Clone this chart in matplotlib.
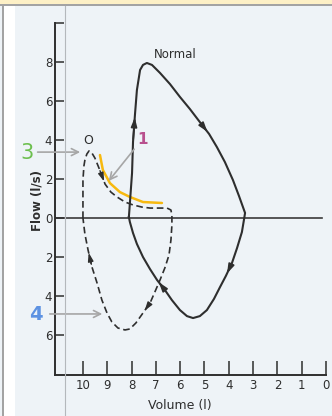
import numpy as np
import matplotlib
matplotlib.use("Agg")
import matplotlib.pyplot as plt
from matplotlib.patches import Rectangle
from matplotlib.lines import Line2D
from matplotlib.ticker import FuncFormatter

# normal loop: expiration (upper) then inspiration (lower), volume in l, flow in l/s
normal_vol = [8.11, 7.98, 7.94, 7.86, 7.78, 7.65, 7.53, 7.37, 7.16, 6.83, 6.42, 6.01, 5.60,
              5.19, 4.81, 4.49, 4.16, 3.83, 3.58, 3.33, 3.37, 3.46, 3.66, 3.87, 4.12,
              4.36, 4.61, 4.90, 5.19, 5.47, 5.72, 6.01, 6.34, 6.63, 6.95, 7.24, 7.53,
              7.78, 7.94, 8.07, 8.11]
normal_flow = [0.05, 2.31, 3.90, 5.30, 6.56, 7.59, 7.85, 7.95, 7.85, 7.44, 6.87, 6.21, 5.59,
               4.92, 4.31, 3.64, 2.87, 1.95, 1.13, 0.26, -0.05, -0.72, -1.54, -2.31, -2.97,
               -3.54, -4.15, -4.72, -5.03, -5.13, -5.03, -4.72, -4.21, -3.69, -3.18, -2.62, -2.00,
               -1.33, -0.77, -0.20, 0.05]

# obstructed loop (dashed)
obstr_vol = [10.0, 10.0, 10.0, 9.96, 9.92, 9.84, 9.75, 9.63, 9.51, 9.34, 9.09, 8.85, 8.60,
             8.27, 7.94, 7.57, 7.24, 6.83, 6.54, 6.38, 6.34, 6.34, 6.38, 6.46, 6.63,
             6.83, 7.04, 7.24, 7.53, 7.82, 8.07, 8.27, 8.56, 8.81, 9.01, 9.22, 9.42,
             9.63, 9.79, 9.92, 10.0]
obstr_flow = [0.0, 1.18, 1.95, 2.67, 2.97, 3.28, 3.44, 3.33, 3.08, 2.56, 1.74, 1.33, 1.08,
              0.82, 0.67, 0.56, 0.51, 0.51, 0.51, 0.41, 0.15, -0.36, -1.13, -1.90, -2.56,
              -3.18, -3.79, -4.36, -4.87, -5.38, -5.69, -5.74, -5.64, -5.33, -4.87, -4.21, -3.33,
              -2.51, -1.64, -0.82, 0.0]

# highlighted segment (yellow)
hl_vol = [9.30, 9.18, 8.89, 8.48, 8.07, 7.53, 6.75]
hl_flow = [3.23, 2.46, 1.79, 1.33, 1.08, 0.82, 0.77]

normal_arrows = [2, 13, 23, 33]
obstr_arrows = [9, 27, 37]

xticks = [10, 9, 8, 7, 6, 5, 4, 3, 2, 1, 0]
yticks = [10, 8, 6, 4, 2, 0, -2, -4, -6]

W, H = 332, 416
fig = plt.figure(figsize=(W / 100, H / 100), dpi=100, facecolor="#eef3f7")


def fx(px):
    return px / W


def fy(py):
    return 1 - py / H


# page frame bits around the scan
fig.add_artist(Rectangle((0, fy(6)), 1, 6 / H, transform=fig.transFigure, color="#a3a3a3", lw=0))
fig.add_artist(Rectangle((0, fy(4)), 1, 4 / H, transform=fig.transFigure, color="#fdf0c6", lw=0))
fig.add_artist(Rectangle((fx(4), 0), 11 / W, fy(6), transform=fig.transFigure, color="white", lw=0))
fig.add_artist(Rectangle((fx(2), 0), 2 / W, fy(4), transform=fig.transFigure, color="#a3a3a3", lw=0))
fig.add_artist(Line2D([fx(65), fx(65)], [0, fy(6)], transform=fig.transFigure, color="#b4b8bc", lw=0.8))

ax = fig.add_axes([fx(55), fy(375), fx(326) - fx(55), fy(23) - fy(375)], facecolor="none")
ax.set_xlim(11.15, 0)
ax.set_ylim(-8.05, 10)

ink = "#2e2e2e"
narrow = ["Liberation Sans Narrow", "DejaVu Sans"]

ax.plot(hl_vol, hl_flow, color="#f7b90f", lw=1.8, solid_capstyle="round", zorder=2)
ax.plot(normal_vol, normal_flow, color=ink, lw=1.5, zorder=3)
ax.plot(obstr_vol, obstr_flow, color=ink, lw=1.2, dashes=(4, 2.2), zorder=3)
ax.plot([11.15, 0.16], [0, 0], color="#3a3a3a", lw=1.2, zorder=1)

for i in normal_arrows:
    ax.annotate("", xy=(normal_vol[i + 1], normal_flow[i + 1]), xytext=(normal_vol[i], normal_flow[i]),
                arrowprops=dict(arrowstyle="-|>,head_length=0.55,head_width=0.18", color=ink, lw=1.2),
                zorder=4)
for i in obstr_arrows:
    ax.annotate("", xy=(obstr_vol[i + 1], obstr_flow[i + 1]), xytext=(obstr_vol[i], obstr_flow[i]),
                arrowprops=dict(arrowstyle="-|>,head_length=0.5,head_width=0.16", color=ink, lw=1.0),
                zorder=4)

for s in ["top", "right"]:
    ax.spines[s].set_visible(False)
for s in ["left", "bottom"]:
    ax.spines[s].set_color(ink)
    ax.spines[s].set_linewidth(1.4)

ax.set_xticks(xticks)
ax.set_yticks(yticks)
ax.yaxis.set_major_formatter(FuncFormatter(lambda v, p: "" if v == 10 else f"{abs(v):g}"))
ax.tick_params(axis="y", direction="in", length=6.5, width=1.1, color=ink, pad=2,
               labelsize=8.5, labelcolor=ink)
ax.tick_params(axis="x", direction="in", length=10, width=1.1, color=ink, pad=3,
               labelsize=8.5, labelcolor=ink)
for lab in ax.get_xticklabels() + ax.get_yticklabels():
    lab.set_family(narrow)

fig.text(fx(37), fy(200), "Flow (l/s)", rotation=90, ha="center", va="center",
         fontsize=8.5, fontweight="bold", color=ink, family=["DejaVu Sans"])
fig.text(fx(180), fy(405), "Volume (l)", ha="center", va="center",
         fontsize=9, color=ink, family=narrow)

ax.text(6.21, 8.36, "Normal", ha="center", va="center", fontsize=8.5, color=ink, family=narrow)
ax.text(9.79, 3.95, "O", ha="center", va="center", fontsize=9, color=ink, family=narrow)

# callouts
grey = "#a6a6a6"
ax.annotate("", xy=(10.0, 3.38), xytext=(11.98, 3.38), annotation_clip=False,
            arrowprops=dict(arrowstyle="->,head_length=0.5,head_width=0.25", color=grey, lw=1.2))
ax.annotate("", xy=(9.01, 1.79), xytext=(7.82, 3.64), annotation_clip=False,
            arrowprops=dict(arrowstyle="->,head_length=0.5,head_width=0.25", color=grey, lw=1.2))
ax.annotate("", xy=(9.09, -4.92), xytext=(11.48, -4.92), annotation_clip=False,
            arrowprops=dict(arrowstyle="->,head_length=0.5,head_width=0.25", color=grey, lw=1.2))
ax.text(12.3, 3.33, "3", ha="center", va="center", fontsize=15, color="#6cbf4e", clip_on=False)
ax.text(11.93, -4.97, "4", ha="center", va="center", fontsize=14, fontweight="bold",
        color="#5d92e2", clip_on=False)
ax.text(7.55, 4.05, "1", ha="center", va="center", fontsize=11, fontweight="bold", color="#b8508e")

fig.savefig("out.png", dpi=100, facecolor=fig.get_facecolor())
